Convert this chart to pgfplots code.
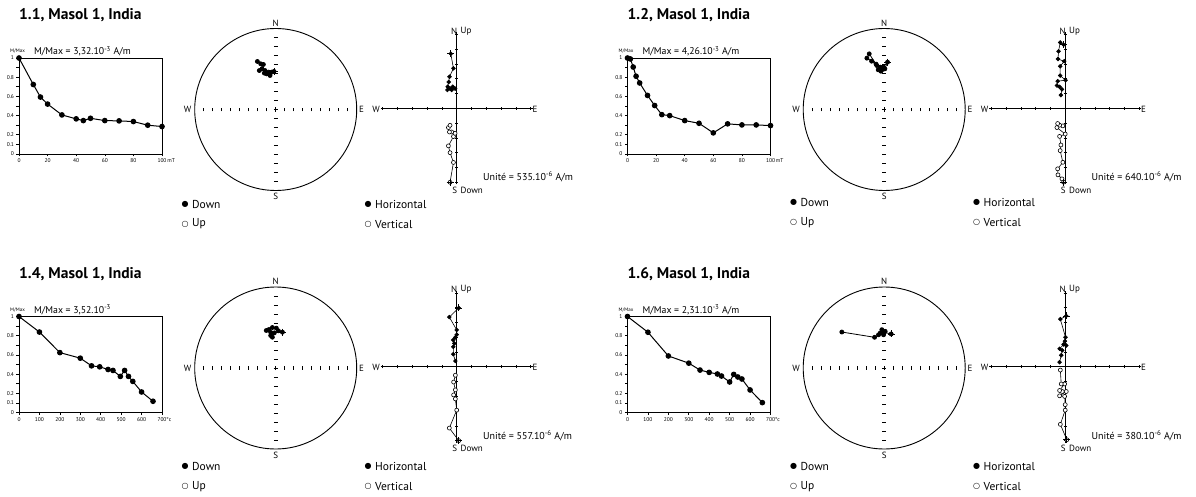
\documentclass[border=0pt]{standalone}
\usepackage{fontspec}
\setmainfont{PT Sans}
\newfontfamily\sym{DejaVu Sans}
\usepackage{pgfplots}
\pgfplotsset{compat=1.18}

\pgfplotsset{
  intens/.style={scale only axis, width=143pt, height=96pt, ymin=0, ymax=1,
    axis line style={line width=0.8pt}, tick align=outside, xtick pos=bottom, ytick pos=left,
    ytick={0,0.1,0.2,0.3,0.4,0.5,0.6,0.7,0.8,0.9,1},
    yticklabels={0,0.1,0.2,{},0.4,{},0.6,{},0.8,{},1},
    tick label style={font=\fontsize{5.5}{6}\selectfont},
    xticklabel style={yshift=1pt}, yticklabel style={xshift=1pt},
    major tick length=2.5pt, tick style={line width=0.6pt, black},
    /pgf/number format/assume math mode=true, clip=false},
  ipl/.style={black, line width=1pt, mark=*, mark size=2.3pt, mark options={fill=black}},
  stereo/.style={scale only axis, width=162pt, height=162pt, xmin=-1, xmax=1, ymin=-1, ymax=1, hide axis, clip=false},
  spl/.style={black, line width=0.8pt, mark=*, mark size=2pt, mark options={fill=black}},
  zijd/.style={scale only axis, width=152.4pt, height=152.4pt, xmin=-5.15, xmax=5.15, ymin=-5.15, ymax=5.15,
    axis lines=middle, axis line style={-, line width=0.9pt}, xtick={-5,...,5}, ytick={-5,...,5},
    xticklabels={}, yticklabels={}, tick align=center, major tick length=3pt,
    tick style={line width=0.6pt, black}, clip=false},
  zh/.style={black, line width=0.6pt, mark=*, mark size=1.9pt, mark options={fill=black}},
  zv/.style={black, line width=0.6pt, mark=*, mark size=2pt, mark options={fill=white, draw=black, line width=0.6pt}},
  cross/.style={black, only marks, mark=+, mark size=3.5pt, mark options={line width=0.8pt}},
}

% #1 dx, #2 dy, #3 legend dy, #4 title, #5 M/Max text, #6 unite value
\newcommand{\Deco}[6]{%
\begin{scope}[shift={(#1,-#2)}]
  \node[anchor=west, font=\bfseries\fontsize{15.5}{17}\selectfont, inner sep=0] at (19,480.5) {#4};
  \node[anchor=west, font=\fontsize{9.8}{11}\selectfont, inner sep=0] at (34,444.5) {#5};
  \node[font=\fontsize{5}{6}\selectfont, inner sep=0] at (17.5,444.5) {M/Max};
  % stereonet
  \draw[line width=0.9pt] (275.7,386.5) circle[radius=81];
  \foreach \k in {1,...,8}{
    \draw[line width=1pt] ({275.7+\k*9},384.7) -- ++(0,3.6);
    \draw[line width=1pt] ({275.7-\k*9},384.7) -- ++(0,3.6);
    \draw[line width=1pt] (273.9,{386.5+\k*9}) -- ++(3.6,0);
    \draw[line width=1pt] (273.9,{386.5-\k*9}) -- ++(3.6,0);
  }
  \draw[line width=0.8pt] (273.5,386.5) -- ++(4.4,0) (275.7,384.3) -- ++(0,4.4);
  \begin{scope}[every node/.style={font=\fontsize{9}{10}\selectfont, inner sep=0.5pt}]
    \node at (275.7,473) {N};
    \node at (275.7,299.5) {S};
    \node at (187.5,386.5) {W};
    \node at (361.5,386.5) {E};
    \node[anchor=east] at (457.8,465) {N};
    \node[anchor=west] at (460,465) {Up};
    \node[anchor=east] at (457.8,306) {S};
    \node[anchor=west] at (460,306) {Down};
    \node[anchor=east] at (380.5,387) {W};
    \node[anchor=west] at (532,387) {E};
  \end{scope}
  \node[anchor=west, font=\fontsize{10}{11}\selectfont, inner sep=0] at (483,319) {Unité = #6.10\textsuperscript{-6} A/m};
\end{scope}
\begin{scope}[shift={(#1,-#3)}, every node/.style={font=\fontsize{11.5}{13}\selectfont, inner sep=0, anchor=west}]
  \node[anchor=center] at (185,292) {\sym\fontsize{8}{9}\selectfont ●};
  \node at (192,292) {Down};
  \node[anchor=center] at (185,272) {\sym\fontsize{8}{9}\selectfont ○};
  \node at (192,272) {Up};
  \node[anchor=center] at (368,292) {\sym\fontsize{8}{9}\selectfont ●};
  \node at (375,292) {Horizontal};
  \node[anchor=center] at (368,272) {\sym\fontsize{8}{9}\selectfont ○};
  \node at (375,272) {Vertical};
\end{scope}
}

\begin{document}
\begin{tikzpicture}[x=1pt,y=1pt]
\useasboundingbox (0,0) rectangle (1196,496);

\Deco{0}{0}{0}{1.1, Masol 1, India}{M/Max = 3,32.10\textsuperscript{-3} A/m}{535}
\Deco{608.5}{0}{-1.5}{1.2, Masol 1, India}{M/Max = 4,26.10\textsuperscript{-3} A/m}{640}
\Deco{0}{258.5}{262.7}{1.4, Masol 1, India}{M/Max = 3,52.10\textsuperscript{-3}}{557}
\Deco{608.5}{258.5}{262.7}{1.6, Masol 1, India}{M/Max = 2,31.10\textsuperscript{-3} A/m}{380}

% ---------- Panel 1.1 ----------
\begin{axis}[intens, at={(19pt,342pt)}, anchor=south west, xmin=0, xmax=100,
  xtick={0,20,40,60,80,100}, xticklabels={0,20,40,60,80,100\rlap{\,mT}}]
\addplot[ipl] coordinates {(0,1) (10,0.724) (15,0.593) (20,0.52) (30,0.407) (40,0.366) (45,0.348) (50,0.372) (60,0.348) (70,0.345) (80,0.338) (90,0.30) (100,0.286)};
\end{axis}
\begin{axis}[stereo, at={(194.7pt,305.5pt)}, anchor=south west]
\addplot[spl] coordinates {(-0.021,0.47) (-0.049,0.461) (-0.070,0.420) (-0.086,0.461) (-0.111,0.440) (-0.140,0.449) (-0.132,0.481) (-0.169,0.502) (-0.202,0.481) (-0.152,0.556) (-0.185,0.564) (-0.226,0.593)};
\addplot[cross] coordinates {(-0.021,0.47)};
\end{axis}
\begin{axis}[zijd, at={(380.5pt,311.5pt)}, anchor=south west]
\addplot[zh] coordinates {(-0.40,3.69) (-0.22,2.70) (-0.49,2.13) (-0.54,1.78) (-0.61,1.46) (-0.45,1.33) (-0.27,1.46) (-0.11,1.33) (-0.34,1.24) (-0.63,1.24)};
\addplot[zv] coordinates {(-0.45,-5.0) (-0.22,-3.66) (-0.45,-3.0) (-0.56,-2.54) (-0.22,-1.91) (-0.11,-1.69) (-0.34,-1.6) (-0.49,-1.6) (-0.56,-1.30) (-0.45,-1.15)};
\addplot[cross] coordinates {(-0.40,3.69) (-0.45,-5.0)};
\end{axis}

% ---------- Panel 1.2 ----------
\begin{axis}[intens, at={(627.5pt,342pt)}, anchor=south west, xmin=0, xmax=100,
  xtick={0,20,40,60,80,100}, xticklabels={0,20,40,60,80,100\rlap{\,mT}}]
\addplot[ipl] coordinates {(0,1) (2,0.99) (4,0.906) (6,0.81) (8.5,0.74) (14,0.61) (19,0.505) (24,0.41) (29.5,0.40) (40,0.348) (50,0.32) (60,0.22) (70,0.314) (80,0.303) (90,0.303) (100,0.296)};
\end{axis}
\begin{axis}[stereo, at={(803.2pt,305.5pt)}, anchor=south west]
\addplot[spl] coordinates {(0.041,0.584) (0.008,0.502) (-0.021,0.494) (-0.041,0.473) (-0.074,0.490) (-0.049,0.523) (-0.008,0.523) (-0.091,0.543) (-0.156,0.597) (-0.214,0.634) (-0.185,0.687) (-0.10,0.56)};
\addplot[cross] coordinates {(0.041,0.584)};
\end{axis}
\begin{axis}[zijd, at={(989pt,311.5pt)}, anchor=south west]
\addplot[zh] coordinates {(-0.11,4.30) (-0.34,4.45) (-0.45,3.85) (-0.49,3.33) (-0.07,3.18) (-0.34,2.84) (-0.34,2.21) (0.02,1.90) (-0.51,1.83) (-0.56,1.54) (-0.38,1.45) (-0.22,1.28) (-0.29,0.89)};
\addplot[zv] coordinates {(-0.11,-4.99) (-0.22,-4.77) (-0.49,-4.50) (-0.51,-4.09) (-0.16,-3.65) (-0.34,-2.86) (-0.29,-2.48) (-0.38,-1.90) (0,-1.74) (-0.56,-1.30) (-0.16,-1.19) (-0.38,-1.14) (-0.51,-1.03)};
\addplot[cross] coordinates {(-0.11,4.30) (-0.11,-4.99)};
\end{axis}

% ---------- Panel 1.4 ----------
\begin{axis}[intens, at={(19pt,83.5pt)}, anchor=south west, xmin=0, xmax=700,
  xtick={0,100,200,300,400,500,600,700}, xticklabels={0,100,200,300,400,500,600,700\rlap{°c}}]
\addplot[ipl] coordinates {(0,1) (100,0.838) (200,0.624) (300,0.566) (355,0.486) (395,0.476) (436,0.448) (460,0.438) (496,0.376) (517,0.438) (536,0.376) (557,0.324) (600,0.214) (656,0.117)};
\end{axis}
\begin{axis}[stereo, at={(194.7pt,47pt)}, anchor=south west]
\addplot[spl] coordinates {(0.083,0.442) (0.033,0.459) (0.008,0.492) (-0.041,0.50) (-0.083,0.475) (-0.116,0.463) (-0.062,0.440) (-0.017,0.434) (-0.062,0.401) (-0.041,0.380)};
\addplot[cross] coordinates {(0.083,0.442)};
\end{axis}
\begin{axis}[zijd, at={(380.5pt,53pt)}, anchor=south west]
\addplot[zh] coordinates {(0.14,3.98) (-0.50,3.36) (0,2.49) (0,2.17) (-0.09,1.99) (-0.23,1.81) (-0.16,1.58) (-0.23,1.35) (-0.23,0.85) (-0.09,0.39)};
\addplot[zv] coordinates {(0.14,-4.99) (-0.50,-4.14) (0,-2.93) (-0.09,-2.17) (-0.21,-1.90) (-0.09,-1.56) (-0.21,-1.03) (-0.09,-0.57)};
\addplot[cross] coordinates {(0.14,3.98) (0.14,-4.99)};
\end{axis}

% ---------- Panel 1.6 ----------
\begin{axis}[intens, at={(627.5pt,83.5pt)}, anchor=south west, xmin=0, xmax=700,
  xtick={0,100,200,300,400,500,600,700}, xticklabels={0,100,200,300,400,500,600,700\rlap{°c}}]
\addplot[ipl] coordinates {(0,1) (100,0.836) (200,0.589) (300,0.514) (355,0.442) (400,0.418) (440,0.401) (460,0.380) (500,0.318) (520,0.397) (540,0.37) (560,0.349) (600,0.235) (660,0.103)};
\end{axis}
\begin{axis}[stereo, at={(803.2pt,47pt)}, anchor=south west]
\addplot[spl] coordinates {(0.086,0.42) (0.0,0.44) (-0.029,0.473) (0.012,0.453) (-0.008,0.41) (-0.049,0.432) (-0.07,0.41) (-0.119,0.379) (-0.523,0.444)};
\addplot[cross] coordinates {(0.086,0.42)};
\end{axis}
\begin{axis}[zijd, at={(989pt,53pt)}, anchor=south west]
\addplot[zh] coordinates {(0.07,3.44) (-0.33,3.22) (0.02,2.0) (-0.02,1.73) (0.07,1.44) (-0.11,1.51) (-0.38,1.22) (-0.2,1.11) (-0.27,0.78) (-0.38,0.31)};
\addplot[zv] coordinates {(0.11,-4.93) (-0.33,-3.89) (0,-2.93) (0,-2.56) (-0.04,-2.0) (-0.38,-1.96) (0.07,-1.67) (-0.2,-1.67) (-0.38,-1.6) (-0.04,-1.16) (-0.27,-1.16) (-0.33,-0.22)};
\addplot[cross] coordinates {(0.07,3.44) (0.11,-4.93)};
\end{axis}
\end{tikzpicture}
\end{document}
